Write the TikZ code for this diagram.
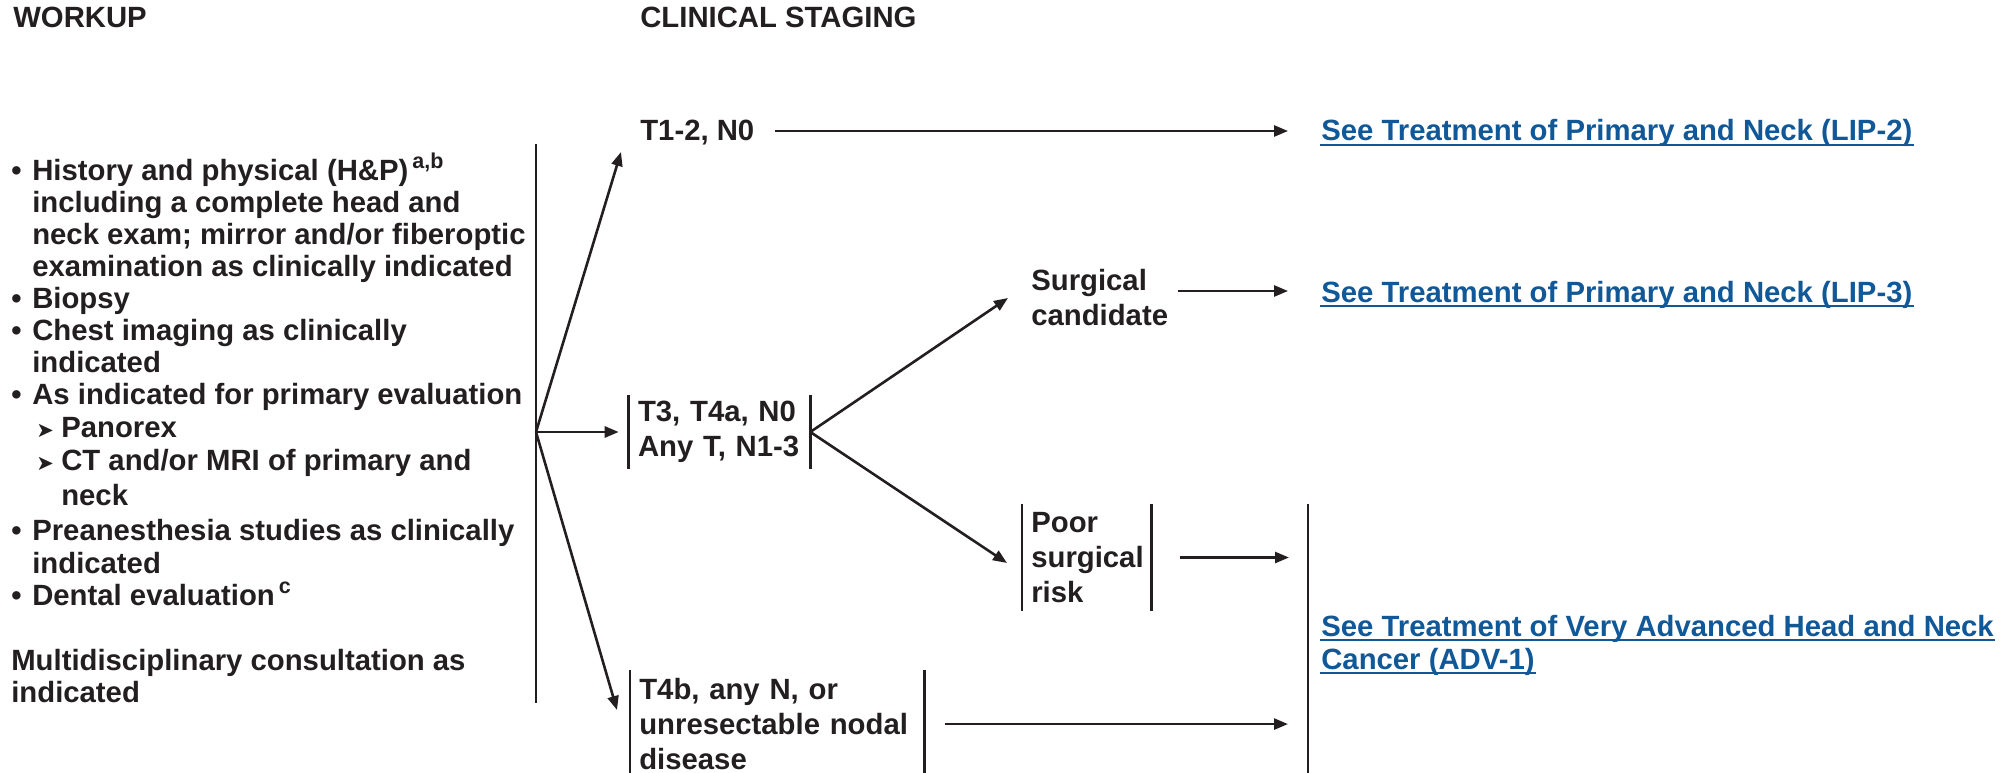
\documentclass[tikz,border=0pt]{standalone}
\usepackage{fontspec}
\setmainfont{Liberation Sans}
\newfontfamily\symfont{DejaVu Sans}
\usetikzlibrary{arrows.meta}

\definecolor{ink}{HTML}{231F20}
\definecolor{linkblue}{RGB}{16,88,152}

% body text and list helpers
\newcommand\bodyfont{\fontsize{29.3}{35}\selectfont\bfseries}
\newcommand\bul{\makebox[21pt][l]{\textbullet}}
\newcommand\ind{\hspace*{21pt}}
\newcommand\subarr{\hspace*{25pt}\makebox[25pt][l]{\raisebox{0pt}{\symfont\mdseries\fontsize{21}{21}\selectfont\char"27A4}}}
\newcommand\subind{\hspace*{50pt}}
\newcommand\sups[1]{\hspace{4pt}\raisebox{12pt}{\fontsize{21.5}{21.5}\selectfont #1}}

\begin{document}
\begin{tikzpicture}[x=1pt,y=-1pt,color=ink,line width=2.6pt,
  txt/.style={inner sep=0pt,anchor=base west,font=\bodyfont},
  link/.style={txt,text=linkblue},
  barbox/.style={font=\bodyfont,align=left,inner xsep=8pt,inner ysep=7pt},
  arr/.style={-{Triangle[length=14pt,width=11pt]}},
  uline/.style={draw=linkblue,line width=2.2pt}]

\useasboundingbox (0,0) rectangle (2016,773);
\clip (0,0) rectangle (2016,773);

% column headings
\node[txt] (h1) at (12,28) {WORKUP};
\node[txt] (h2) at (639,28) {CLINICAL STAGING};

% workup list
\node[txt] (w1)  at (10,180) {\bul History and physical (H\&P)\sups{a,b}};
\node[txt] (w2)  at (10,212) {\ind including a complete head and};
\node[txt] (w3)  at (10,244) {\ind neck exam; mirror and/or fiberoptic};
\node[txt] (w4)  at (10,276) {\ind examination as clinically indicated};
\node[txt] (w5)  at (10,308) {\bul Biopsy};
\node[txt] (w6)  at (10,340) {\bul Chest imaging as clinically};
\node[txt] (w7)  at (10,372) {\ind indicated};
\node[txt] (w8)  at (10,404) {\bul As indicated for primary evaluation};
\node[txt] (w9)  at (10,437) {\subarr Panorex};
\node[txt] (w10) at (10,470) {\subarr CT and/or MRI of primary and};
\node[txt] (w11) at (10,505) {\subind neck};
\node[txt] (w12) at (10,540) {\bul Preanesthesia studies as clinically};
\node[txt] (w13) at (10,573) {\ind indicated};
\node[txt] (w14) at (10,605) {\bul Dental evaluation\sups{c}};
\node[txt] (w15) at (10,670) {Multidisciplinary consultation as};
\node[txt] (w16) at (10,702) {indicated};

% workup bracket and the three staging branches
\coordinate (wtop) at (536,144);
\coordinate (wbot) at (536,703);
\coordinate (wj)   at (536,432);
\draw (wtop) -- (wbot);

\node[txt] (t12) at (639,141) {T1-2, N0};
\node[barbox,text width=163pt,minimum height=72pt,inner ysep=0pt] (t3) at (719.5,432)
  {T3, T4a, N0\\Any T, N1-3};
\node[barbox,text width=276pt,anchor=north west] (t4) at (630,670)
  {T4b, any N, or\\unresectable nodal\\disease};

\draw (t3.north west) -- (t3.south west);
\draw (t3.north east) -- (t3.south east);
\draw (t4.north west) -- (t4.south west);
\draw (t4.north east) -- (t4.south east);

\coordinate (t12in) at (621,152);
\coordinate (t4in)  at (617,710);
\draw[arr] (wj) -- (t12in);
\draw[arr,shorten >=10pt] (wj) -- (t3.west);
\draw[arr] (wj) -- (t4in);

% surgical split
\node[font=\bodyfont,align=left,inner sep=0pt,anchor=north west] (sc) at (1030,268)
  {Surgical\\candidate};
\node[barbox,text width=111pt,anchor=north west] (pr) at (1022,504)
  {Poor\\surgical\\risk};
\draw (pr.north west) -- (pr.south west);
\draw (pr.north east) -- (pr.south east);

\coordinate (scin) at (1008,298);
\coordinate (prin) at (1007,563);
\draw[arr] (t3.east) -- (scin);
\draw[arr] (t3.east) -- (prin);

% treatment references
\node[link] (l2) at (1320,141) {See Treatment of Primary and Neck (LIP-2)};
\node[link] (l3) at (1320,302) {See Treatment of Primary and Neck (LIP-3)};
\node[link] (a1) at (1320,636) {See Treatment of Very Advanced Head and Neck};
\node[link] (a2) at (1320,669) {Cancer (ADV-1)};
\foreach \n in {l2,l3,a1,a2}
  \draw[uline] ([yshift=-4pt]\n.base west) -- ([yshift=-4pt]\n.base east);

% bracket grouping the very advanced cases
\coordinate (abtop) at (1308,504);
\coordinate (abbot) at (1308,790);
\draw (abtop) -- (abbot);

% arrows into the treatment references
\coordinate (lip2in) at (1288,131);
\coordinate (lip3in) at (1288,291);
\draw[arr,shorten <=19pt] (t12.east |- lip2in) -- (lip2in);
\draw[arr,shorten <=9pt] (sc.east |- lip3in) -- (lip3in);
\draw[arr,shorten <=28pt,shorten >=19pt] (pr.east) -- (pr.east -| abtop);
\draw[arr,shorten <=20pt,shorten >=20pt] (t4.east) -- (t4.east -| abtop);

\end{tikzpicture}
\end{document}
